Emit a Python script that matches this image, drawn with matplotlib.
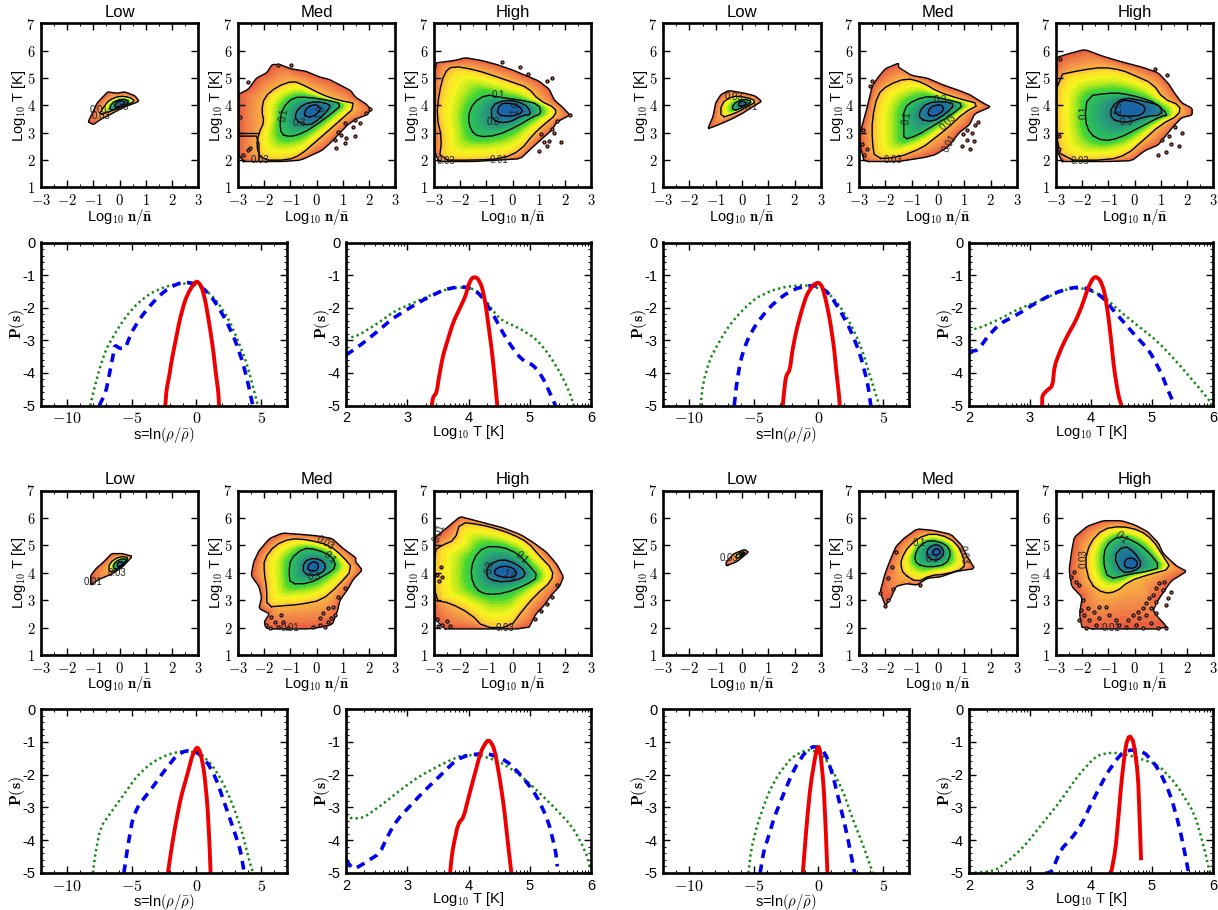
import numpy as np
import matplotlib
matplotlib.use('Agg')
import matplotlib.pyplot as plt
from matplotlib.colors import LinearSegmentedColormap
from matplotlib.path import Path

plt.rcParams['font.family'] = ['Liberation Sans', 'DejaVu Sans']
plt.rcParams['mathtext.fontset'] = 'cm'

# ---- phase diagrams: contour outlines, (log n, log T)
# order is outer edge first, then each contour going inwards
p1_peak = (0.05, 4.05)
p1 = [[(-1.2,3.4),(-1.0,3.3),(-0.7,3.5),(-0.3,3.7),(0.2,3.95),(0.75,4.15),(0.6,4.35),(0.2,4.5),(-0.1,4.45),(-0.45,4.5),(-0.6,4.35),(-0.85,4.1),(-1.05,3.7)],
      [(-0.8,3.65),(-0.3,3.8),(0.2,4.0),(0.6,4.15),(0.4,4.3),(0,4.35),(-0.4,4.2),(-0.6,3.95)],
      [(-0.4,3.8),(0.1,3.95),(0.4,4.15),(0.1,4.25),(-0.3,4.1)],
      [(-0.15,3.9),(0.25,4.1),(0.05,4.2),(-0.2,4.05)]]
p2_peak = (-0.2, 3.85)
p2 = [[(-3,1.95),(-1.3,1.95),(-0.6,2.0),(0.2,2.35),(0.5,2.6),(0.9,3.0),(1.2,3.3),(1.5,3.5),(1.9,3.65),(2.1,3.85),(1.9,4.05),(1.5,4.3),(1.3,4.55),(1,4.7),(0.5,4.95),(0.1,5.05),(-0.4,5.25),(-1,5.35),(-1.4,5.5),(-1.7,5.5),(-1.9,5.2),(-2.3,5),(-2.6,4.6),(-3,4.4)],
      [(-2.1,2.0),(-1.1,2.0),(-0.6,2.2),(0,2.7),(0.6,3.2),(1.6,4.05),(0.8,4.2),(0.2,4.4),(-0.5,4.75),(-0.9,4.9),(-1.5,4.7),(-2,4.3),(-2.1,3.8),(-2,3.4),(-2.2,3.0),(-2.3,2.5)],
      [(-1.35,2.95),(-1,2.85),(-0.5,3),(0,3.3),(0.5,3.65),(1,4.05),(0.4,4.2),(-0.3,4.3),(-0.9,4.3),(-1.3,3.9),(-1.4,3.4)],
      [(-0.8,3.45),(-0.3,3.25),(0.1,3.5),(0.5,3.9),(0.5,4.05),(0,4.15),(-0.5,4.05),(-0.8,3.75)],
      [(-0.5,3.65),(-0.2,3.55),(0.2,3.85),(0,4.05),(-0.35,3.95)]]
p2_extra = [[(-3,3.0),(-2.25,3.0)], [(-3,2.88),(-2.3,2.88),(-2.2,2.6),(-2.2,2.0)]]
p3_peak = (-0.25, 3.85)
p3 = [[(-3,1.95),(-1.5,1.95),(-0.6,2.0),(0.3,2.05),(0.8,2.5),(1.15,2.8),(1.5,3.1),(1.7,3.4),(2.2,3.65),(1.9,3.95),(1.6,4.2),(1.4,4.6),(1,4.9),(0.5,5.1),(0,5.3),(-0.6,5.5),(-1.2,5.65),(-1.8,5.75),(-2.2,5.65),(-3,5.55)],
      [(-2.8,2.0),(-1.5,2.0),(-0.4,2.05),(0.3,2.35),(0.8,2.95),(1.2,3.3),(1.65,3.65),(1.65,3.9),(1.0,4.2),(0.6,4.65),(0,4.85),(-0.6,5.05),(-1.4,5.3),(-2.3,5.45),(-2.6,5.2),(-2.8,4.5),(-2.9,3.6),(-2.7,2.8)],
      [(-1.6,3.1),(-1.3,2.85),(-0.6,2.9),(0.2,3.25),(0.8,3.6),(1.1,3.7),(1.0,4.05),(0.3,4.2),(-0.5,4.3),(-1.0,4.4),(-1.5,4.1),(-1.7,3.6)],
      [(-0.8,3.45),(-0.2,3.35),(0.4,3.65),(0.7,3.65),(0.6,3.95),(0.2,4.15),(-0.3,4.2),(-0.8,4.0)],
      [(-0.6,3.65),(0,3.6),(0.4,3.75),(0.3,3.95),(-0.1,4.1),(-0.5,4.05)]]
p4_peak = (0.0, 4.05)
p4 = [[(-1.3,3.15),(-1,3.25),(-0.4,3.5),(0,3.7),(0.4,3.95),(0.75,4.15),(0.5,4.35),(0.1,4.45),(-0.5,4.55),(-0.8,4.4),(-1,4.1),(-1.1,3.6)],
      [(-0.8,3.55),(-0.3,3.7),(0.2,3.95),(0.55,4.15),(0.2,4.3),(-0.4,4.35),(-0.8,4.05)],
      [(-0.35,3.8),(0.1,3.95),(0.4,4.15),(0.05,4.25),(-0.35,4.05)],
      [(-0.1,3.95),(0.2,4.05),(0.05,4.18),(-0.15,4.08)]]
p5_peak = (-0.15, 3.8)
p5 = [[(-2.8,1.95),(-1.5,1.95),(-0.5,2.1),(-0.1,2.2),(0.4,2.5),(0.8,3.0),(1.2,3.3),(1.4,3.7),(2.0,3.95),(1.7,4.1),(1.2,4.4),(0.8,4.55),(0.2,4.75),(-0.4,5.0),(-1,5.1),(-1.5,5.4),(-1.5,5.55),(-2,5.35),(-2.3,5),(-2.5,4.7),(-2.7,3.9),(-2.9,3.2),(-3,2.8),(-2.9,2.3)],
      [(-2.4,2.05),(-1.5,2.1),(-0.6,2.45),(-0.2,2.75),(0.4,3.2),(1,3.75),(1.6,4.05),(0.8,4.25),(0,4.5),(-0.6,4.85),(-1.2,5.0),(-1.9,4.75),(-2.3,4.4),(-2.5,3.5),(-2.5,2.7)],
      [(-1.3,2.75),(-0.8,2.9),(-0.2,3.25),(0.5,3.65),(1.0,4.05),(0.4,4.2),(-0.3,4.35),(-0.9,4.2),(-1.3,3.9),(-1.3,3.2)],
      [(-0.7,3.5),(-0.2,3.4),(0.3,3.7),(0.65,4.05),(0.2,4.15),(-0.4,4.1),(-0.7,3.8)],
      [(-0.4,3.65),(-0.1,3.6),(0.25,3.85),(0.1,4.05),(-0.3,3.95)]]
p6_peak = (-0.1, 3.85)
p6 = [[(-3,1.95),(-1,1.95),(-0.1,1.98),(0.4,2.35),(0.9,2.55),(1.2,2.9),(1.5,3.25),(1.8,3.55),(2.2,3.65),(2.2,3.9),(1.8,4.1),(1.5,4.5),(1.3,4.8),(0.9,5.2),(0.3,5.4),(-0.5,5.6),(-1.2,5.8),(-1.9,6.05),(-2.5,5.9),(-3,5.75)],
      [(-2.8,2.0),(-1,2.0),(-0.3,2.2),(0.3,2.7),(1,3.3),(1.7,3.65),(1.75,4),(1.1,4.25),(0.7,4.8),(0,5.1),(-0.5,5.3),(-1.2,5.4),(-2,5.3),(-3,5.1),(-3,3)],
      [(-1.7,2.95),(-1.2,2.7),(-0.6,2.8),(0.2,3.2),(1,3.6),(1.3,3.65),(0.8,4.1),(0.2,4.3),(-0.5,4.45),(-1,4.45),(-1.8,4.35),(-1.9,3.5)],
      [(-0.9,3.5),(-0.3,3.35),(0.4,3.6),(1.05,3.65),(1.0,4.0),(0.4,4.15),(-0.4,4.3),(-0.9,3.95)],
      [(-0.7,3.65),(-0.2,3.6),(0.3,3.65),(0.45,3.95),(0,4.15),(-0.5,4.2),(-0.75,3.9)]]
p7_peak = (0.05, 4.3)
p7 = [[(-1.1,3.55),(-0.8,3.75),(-0.3,3.95),(0.1,4.2),(0.5,4.6),(0.1,4.7),(-0.3,4.7),(-0.6,4.4),(-0.9,4.15),(-1.1,3.9)],
      [(-0.4,4.0),(0,4.15),(0.4,4.55),(0,4.6),(-0.4,4.35)],
      [(-0.2,4.1),(0.1,4.25),(0.3,4.5),(0,4.5),(-0.25,4.3)],
      [(-0.05,4.2),(0.2,4.35),(0,4.42),(-0.1,4.3)]]
p8_peak = (-0.15, 4.25)
p8 = [[(-1.9,1.95),(-0.2,1.95),(0.6,2.1),(0.8,2.6),(0.9,3.0),(1.2,3.4),(1.4,3.75),(1.75,4.1),(1.5,4.4),(1.5,4.55),(1,4.9),(0.6,5.25),(0,5.35),(-0.6,5.4),(-1.3,5.45),(-1.8,5.25),(-2.2,4.8),(-2.4,4.4),(-2.5,3.9),(-2.2,3.5),(-2.1,3.1),(-2.2,2.7),(-1.8,2.5),(-2,2.2)],
      [(-1.9,2.75),(-1.2,2.8),(-0.6,2.85),(0.2,3.0),(0.8,3.5),(1.4,4.15),(1,4.6),(0.5,5.0),(-0.3,5.2),(-1,5.25),(-1.6,5.0),(-2,4.5),(-2,4),(-1.9,3.4)],
      [(-1,3.6),(-0.3,3.6),(0.4,3.95),(0.75,4.2),(0.6,4.6),(0,4.85),(-0.5,4.9),(-1,4.5),(-1.05,4.0)],
      [(-0.5,3.95),(0,3.9),(0.35,4.1),(0.3,4.4),(-0.1,4.55),(-0.5,4.4)],
      [(-0.35,4.1),(0,4.05),(0.1,4.3),(-0.1,4.42),(-0.3,4.3)]]
p9_peak = (-0.3, 4.05)
p9 = [[(-3,1.95),(0.6,1.95),(0.9,2.5),(1.2,2.8),(1.5,3.2),(1.8,3.5),(1.95,3.85),(1.7,4.3),(1.3,4.75),(0.8,5.1),(0.3,5.4),(-0.4,5.65),(-1,5.8),(-1.6,5.95),(-2,6.05),(-2.5,5.65),(-3,5.25)],
      [(-3,3.0),(-2.4,2.9),(-1.6,2.5),(-1.1,2.0),(-0.1,2.0),(0.4,2.65),(0.9,3.2),(1.5,3.7),(1.55,4.1),(1.0,4.65),(0.6,5.1),(0,5.4),(-0.6,5.6),(-1.2,5.75),(-2,5.85),(-2.2,5.2),(-2.7,5.0),(-3,4.8)],
      [(-1.4,3.4),(-1.0,3.2),(-0.3,3.25),(0.5,3.55),(1,3.85),(0.6,4.3),(0.2,4.7),(-0.4,4.95),(-1.1,4.95),(-1.5,4.5),(-1.6,3.9)],
      [(-0.9,3.75),(-0.3,3.65),(0.4,3.8),(0.5,4.05),(0.1,4.35),(-0.4,4.5),(-0.9,4.3),(-1,4)],
      [(-0.65,3.9),(-0.1,3.8),(0.2,3.95),(0,4.2),(-0.4,4.25),(-0.7,4.1)]]
p10_peak = (0.0, 4.65)
p10 = [[(-0.6,4.25),(-0.2,4.4),(0.25,4.75),(0.1,4.85),(-0.3,4.7),(-0.6,4.4)],
       [(-0.2,4.5),(0.15,4.72),(0,4.78),(-0.25,4.6)],
       [(-0.05,4.6),(0.1,4.72),(0,4.72),(-0.08,4.65)]]
p11_peak = (-0.05, 4.75)
p11 = [[(-2.0,2.8),(-1.8,3.05),(-1.6,3.5),(-1.2,3.6),(-0.8,3.55),(-0.4,3.8),(0.1,3.85),(0.7,4.05),(1.4,4.15),(1.1,4.6),(0.9,5.0),(0.5,5.4),(-0.2,5.55),(-0.8,5.6),(-1.3,5.25),(-1.6,4.95),(-1.8,4.5),(-2.0,4.0),(-2.2,3.3)],
       [(-1.3,3.95),(-0.8,3.65),(-0.3,3.9),(0.3,3.95),(1.0,4.15),(1.0,4.5),(0.7,5.1),(0.1,5.4),(-0.5,5.4),(-1.1,5.0),(-1.4,4.5),(-1.4,4.2)],
       [(-0.8,4.3),(-0.3,4.2),(0.3,4.3),(0.5,4.7),(0.3,5.05),(-0.3,5.2),(-0.7,5.0),(-0.9,4.6)],
       [(-0.35,4.5),(0,4.45),(0.25,4.7),(0.1,5.0),(-0.2,5.02),(-0.45,4.8)],
       [(-0.2,4.65),(0.05,4.65),(0.1,4.8),(-0.05,4.9),(-0.2,4.8)]]
p12_peak = (-0.15, 4.35)
p12 = [[(-2.0,1.95),(1.3,1.95),(0.7,2.6),(0.9,3.0),(1.4,3.7),(2.0,4.05),(1.6,4.25),(1.1,4.7),(0.9,5.1),(0.5,5.5),(0,5.75),(-0.5,5.9),(-1.2,5.9),(-1.8,5.7),(-2.3,5.3),(-2.4,4.8),(-2.5,4.1),(-2.4,3.5),(-2,3.1),(-2.1,2.5)],
       [(-1.7,3.6),(-1.2,3.25),(-0.7,3.3),(-0.2,3.7),(0.6,3.95),(1.4,4.15),(1.1,4.6),(0.7,5.2),(0.2,5.55),(-0.5,5.7),(-1.2,5.6),(-1.7,5.1),(-1.9,4.4)],
       [(-1.0,3.75),(-0.2,3.95),(0.5,4.05),(1,4.2),(0.5,4.8),(0,5.15),(-0.6,5.35),(-1.1,5.0),(-1.2,4.4)],
       [(-0.5,4.0),(0,4.05),(0.3,4.3),(0,4.75),(-0.4,5.0),(-0.8,4.6)],
       [(-0.4,4.2),(0.0,4.15),(0.15,4.35),(-0.05,4.55),(-0.35,4.5)]]

# stray cells outside the main body
s2 = [(2.03,3.86),(1.9,3.71),(1.65,3.35),(1.46,3.47),(1.39,3.23),(1.46,2.88),(1.08,3.35),(0.82,3.04),(1.14,2.8),(0.95,2.92),(0.69,2.74),(1.08,2.62),(0.76,2.43),(-1.47,5.48),(-0.96,5.48),(-2.62,4.87),(-2.94,3.59),(-2.62,2.37),(-2.55,2.43),(-2.81,2.19)]
s3 = [(1.4,2.7),(1.85,2.65),(1.6,3.0),(1.3,2.5),(1.0,2.35),(1.2,2.65),(2.2,3.65),(1.5,5.0),(0.6,5.15),(0.3,5.4),(-0.4,5.6),(1.3,4.9),(1.5,3.15),(1.7,3.45),(1.1,2.95)]
s5 = [(0.9,2.5),(1.1,2.75),(1.2,2.4),(1.3,3.0),(1.4,3.3),(-2.5,4.9),(-2.9,2.6),(-2.8,2.2),(1.1,3.1),(1.35,2.7),(-2.6,4.7),(1.5,3.4),(0.95,2.95),(-2.85,3.1),(-2.7,2.4)]
s6 = [(1.7,2.5),(1.8,3.0),(1.4,2.6),(1.2,2.3),(0.9,2.2),(1.3,2.9),(1.25,5.1),(0.8,5.35),(-2.9,2.4),(-2.9,2.9),(-2.85,5.7),(1.55,3.2),(1.05,2.75)]
s8 = [(-1.73,2.40),(-1.34,2.46),(-1.92,2.09),(-1.6,2.2),(-1.28,2.2),(-1.79,1.97),(-1.47,2.03),(-1.09,1.97),(0.12,2.34),(0.25,2.52),(0.44,2.7),(0.63,2.76),(0.82,3.13),(1.08,3.43),(0.69,2.46),(0.44,2.2),(0.31,2.03),(0.12,2.09),(-0.13,2.03),(0.57,2.34)]
s9 = [(-2.9,2.3),(-2.7,2.1),(-2.5,2.25),(-2.4,2.05),(-2.85,2.05),(-2.9,3.9),(-2.7,3.85),(-2.8,3.7),(1.3,2.85),(1.5,3.1),(1.7,3.55),(-2.75,4.2),(1.1,2.6),(0.85,2.3)]
s11 = [(-2.0,2.8),(-1.9,3.0),(-2.2,3.25),(-1.7,3.4),(-1.75,4.2),(-1.6,4.75),(-1.9,3.8),(-0.7,3.55)]
s12 = [(1.39,3.31),(1.27,3.07),(1.14,3.68),(0.95,3.62),(0.82,3.43),(1.08,3.37),(0.69,3.19),(0.57,3.07),(0.82,2.95),(0.44,2.89),(0.63,2.70),(0.31,2.70),(0.12,2.58),(0.44,2.46),(0.18,2.34),(-0.07,2.46),(-0.26,2.28),(0.06,2.09),(0.63,2.16),(0.82,2.52),(1.2,2.82),(-1.98,3.01),(-2.04,2.64),(-1.92,2.46),(-2.11,2.28),(-1.79,2.70),(-1.54,2.58),(-1.73,2.28),(-1.34,2.76),(-1.09,2.76),(-0.96,2.46),(-0.71,2.28),(-1.34,2.34),(-1.47,2.09),(-1.85,1.97),(-0.58,2.09),(-0.32,2.01),(0.31,1.97),(1.2,1.97),(0.89,1.97),(-2.43,3.86),(-2.24,3.68),(-2.3,4.04),(-2.11,3.55)]

# contour labels (x, y, text, angle)
l1 = [(-0.8,3.85,'0.01',0),(-0.7,3.6,'0.03',0),(0.1,3.95,'0.3',0)]
l2 = [(-1.25,3.65,'0.1',80),(-0.65,3.35,'0.3',0),(0.15,3.75,'1.0',80),(-2.15,2.0,'0.03',0)]
l3 = [(-0.55,4.4,'0.1',0),(-0.75,3.4,'0.3',0),(0.1,3.9,'1.0',80),(-2.55,1.97,'0.03',0),(-0.5,2.0,'0.01',0)]
l4 = [(-0.3,4.3,'0.03',0),(0.35,3.95,'0.1',0)]
l5 = [(-1.2,3.55,'0.1',80),(0.1,4.2,'0.3',0),(0.4,3.4,'0.03',45),(0.45,2.6,'0.01',60),(-1.7,2.0,'0.03',0)]
l6 = [(-1.95,3.75,'0.1',90),(-0.3,3.4,'0.3',0),(-0.6,3.95,'1.0',90),(-2.1,1.97,'0.03',0)]
l7 = [(-1.0,3.65,'0.01',0),(-0.1,4.0,'0.03',0)]
l8 = [(0.5,4.55,'0.1',-45),(-0.1,3.85,'0.3',0),(0.35,5.1,'0.03',-30),(-1.0,1.97,'0.01',0)]
l9 = [(0.35,4.55,'0.1',-45),(-0.85,4.2,'0.3',80),(-0.1,3.9,'1.0',-20),(-0.3,2.0,'0.03',0),(-2.8,5.45,'0.01',70)]
l10 = [(-0.5,4.55,'0.03',0)]
l11 = [(-0.7,5.1,'0.1',0),(-0.2,4.5,'0.3',0),(0.95,4.65,'0.03',-80)]
l12 = [(-0.5,5.3,'0.1',-45),(-1.95,4.5,'0.03',90),(-0.9,1.98,'0.01',0)]

# ---- PDFs (x, P(s))
a_red = [(-2.4,-5),(-2.3,-4.5),(-2.1,-4.1),(-1.9,-3.6),(-1.6,-3),(-1.3,-2.4),(-0.9,-1.8),(-0.5,-1.45),(-0.1,-1.22),(0.1,-1.2),(0.4,-1.35),(0.7,-1.8),(1.0,-2.5),(1.3,-3.3),(1.5,-4),(1.7,-4.6),(1.75,-5)]
a_blue = [(-7.5,-5),(-7,-4.6),(-6.7,-4),(-6.4,-3.4),(-6.3,-3.15),(-5.9,-3.25),(-5.5,-3.25),(-5,-2.75),(-4.3,-2.3),(-3.5,-1.9),(-2.5,-1.5),(-1.5,-1.27),(-0.8,-1.22),(0,-1.27),(0.8,-1.5),(1.5,-1.85),(2.3,-2.4),(3,-3),(3.6,-3.7),(4.1,-4.5),(4.35,-5)]
a_green = [(-8.2,-5),(-7.9,-4.5),(-7.5,-3.9),(-7,-3.3),(-6.3,-2.8),(-5.5,-2.3),(-4.5,-1.85),(-3.5,-1.55),(-2.5,-1.37),(-1.5,-1.27),(-0.5,-1.25),(0.5,-1.38),(1.5,-1.75),(2.5,-2.35),(3.2,-3),(3.8,-3.6),(4.3,-4.3),(4.75,-5)]
b_red = [(3.4,-5),(3.42,-4.75),(3.48,-4.6),(3.52,-4.1),(3.58,-3.5),(3.65,-3.05),(3.75,-2.45),(3.85,-2.05),(3.95,-1.65),(4.0,-1.3),(4.05,-1.1),(4.1,-1.06),(4.15,-1.1),(4.22,-1.35),(4.28,-1.9),(4.33,-2.6),(4.38,-3.3),(4.42,-4),(4.47,-5)]
b_blue = [(2,-3.45),(2.2,-3.2),(2.5,-2.75),(2.75,-2.35),(3,-2.05),(3.3,-1.72),(3.6,-1.45),(3.8,-1.37),(4,-1.37),(4.2,-1.6),(4.4,-2.2),(4.6,-2.9),(4.8,-3.45),(4.95,-3.7),(5.05,-3.75),(5.2,-4.1),(5.35,-4.7),(5.42,-5)]
b_green = [(2,-2.95),(2.2,-2.85),(2.5,-2.5),(2.8,-2.1),(3.1,-1.85),(3.4,-1.6),(3.7,-1.4),(4.0,-1.37),(4.2,-1.55),(4.4,-2.1),(4.55,-2.4),(4.8,-2.6),(5.1,-2.95),(5.3,-3.4),(5.5,-4.0),(5.65,-4.6),(5.72,-5)]
c_red = [(-2.75,-5),(-2.6,-4.4),(-2.5,-4.1),(-2.2,-3.9),(-2,-3.3),(-1.7,-2.7),(-1.3,-2.1),(-0.9,-1.6),(-0.4,-1.3),(0,-1.22),(0.3,-1.35),(0.6,-1.8),(0.9,-2.4),(1.2,-3.2),(1.4,-4),(1.6,-4.7),(1.65,-5)]
c_blue = [(-6.5,-5),(-6.3,-4.3),(-6,-3.6),(-5.5,-3),(-4.8,-2.5),(-3.8,-2.0),(-2.8,-1.65),(-1.8,-1.42),(-0.8,-1.33),(0,-1.33),(0.8,-1.55),(1.7,-2.1),(2.5,-2.7),(3.2,-3.4),(3.8,-4.3),(4.05,-5)]
c_green = [(-9.1,-5),(-8.9,-4.3),(-8.4,-3.6),(-7.6,-3),(-6.8,-2.5),(-5.8,-2.05),(-4.8,-1.7),(-3.6,-1.47),(-2.4,-1.35),(-1,-1.3),(0.5,-1.45),(1.5,-1.85),(2.5,-2.5),(3.3,-3.2),(4,-4.1),(4.7,-5)]
d_red = [(3.2,-5),(3.2,-4.7),(3.27,-4.55),(3.37,-4.4),(3.4,-3.8),(3.5,-3.3),(3.6,-2.9),(3.75,-2.4),(3.85,-1.95),(3.95,-1.4),(4.03,-1.1),(4.08,-1.05),(4.15,-1.15),(4.22,-1.5),(4.28,-2.2),(4.33,-3),(4.38,-3.9),(4.45,-4.7),(4.5,-5)]
d_blue = [(2,-3.35),(2.15,-3.3),(2.3,-2.9),(2.5,-2.5),(2.8,-2.2),(3.1,-1.85),(3.4,-1.55),(3.7,-1.38),(3.9,-1.38),(4.15,-1.6),(4.4,-2.15),(4.7,-2.8),(4.95,-3.3),(5.15,-4),(5.3,-4.7),(5.38,-5)]
d_green = [(2,-2.7),(2.2,-2.6),(2.5,-2.35),(2.8,-2.05),(3.2,-1.75),(3.6,-1.42),(3.9,-1.4),(4.2,-1.65),(4.5,-2.15),(4.8,-2.6),(5.1,-3.05),(5.4,-3.65),(5.7,-4.3),(5.9,-4.75),(6,-5)]
e_red = [(-2.2,-5),(-1.9,-4.2),(-1.6,-3.5),(-1.2,-2.7),(-0.7,-2),(-0.3,-1.4),(0.05,-1.15),(0.3,-1.3),(0.6,-1.9),(0.85,-2.9),(1,-4),(1.1,-5)]
e_blue = [(-5.6,-5),(-5.3,-4.2),(-4.9,-3.3),(-4.4,-2.9),(-3.5,-2.45),(-2.5,-1.9),(-1.5,-1.4),(-0.8,-1.27),(0,-1.3),(0.8,-1.6),(1.5,-2.1),(2.2,-2.9),(2.9,-3.7),(3.4,-4.3),(3.7,-5)]
e_green = [(-8,-5),(-7.8,-4.4),(-7.4,-3.6),(-6.5,-3.1),(-5.5,-2.55),(-4.6,-2.05),(-3.5,-1.65),(-2.3,-1.4),(-1,-1.27),(0.3,-1.35),(1.2,-1.7),(2,-2.2),(2.8,-2.9),(3.5,-3.7),(4.2,-4.8),(4.4,-5)]
f_red = [(3.7,-5),(3.72,-4.6),(3.75,-4.2),(3.83,-3.5),(3.92,-3.3),(4,-2.7),(4.1,-2),(4.2,-1.3),(4.3,-0.97),(4.35,-0.97),(4.42,-1.2),(4.5,-2),(4.58,-3),(4.65,-4.2),(4.7,-5)]
f_blue = [(2,-4.6),(2.12,-4.9),(2.3,-4.7),(2.55,-4.4),(2.7,-3.8),(2.85,-3.35),(3,-3.05),(3.25,-2.55),(3.5,-2.1),(3.8,-1.55),(4,-1.4),(4.3,-1.35),(4.6,-1.55),(4.85,-2.0),(5.1,-2.6),(5.3,-3.4),(5.42,-4.3),(5.45,-4.8)]
f_green = [(2,-3.2),(2.1,-3.35),(2.3,-3.3),(2.6,-2.9),(2.9,-2.45),(3.2,-2.05),(3.6,-1.65),(3.9,-1.4),(4.2,-1.42),(4.5,-1.6),(4.8,-1.95),(5.1,-2.45),(5.4,-3.0),(5.7,-3.6),(5.9,-4.3),(6,-4.9)]
g_red = [(-1.2,-5),(-0.9,-3.5),(-0.6,-2.3),(-0.2,-1.35),(0,-1.12),(0.15,-1.3),(0.4,-2.3),(0.55,-3.5),(0.7,-5)]
g_blue = [(-4.5,-5),(-4.2,-4.3),(-3.9,-3.95),(-3.4,-3.3),(-2.7,-2.6),(-1.9,-1.85),(-1,-1.3),(-0.3,-1.12),(0.5,-1.3),(1.1,-2),(1.6,-2.8),(2.2,-3.8),(2.8,-5)]
g_green = [(-5.4,-5),(-5.2,-4.3),(-4.7,-3.5),(-3.9,-2.6),(-3.1,-2),(-2,-1.45),(-0.8,-1.22),(0.3,-1.38),(1,-1.8),(1.9,-2.5),(2.6,-3.3),(3.5,-4.2),(4.2,-5)]
h_red = [(4.33,-5),(4.4,-4.3),(4.45,-3.3),(4.5,-2.2),(4.57,-1.1),(4.63,-0.8),(4.7,-1),(4.77,-2),(4.8,-3.5),(4.82,-4.55)]
h_blue = [(3.25,-5),(3.35,-5),(3.5,-4.3),(3.7,-3.9),(3.85,-3.5),(4.0,-2.9),(4.25,-2),(4.45,-1.45),(4.6,-1.25),(4.85,-1.27),(5.1,-1.8),(5.3,-2.6),(5.45,-3.6),(5.55,-4.5),(5.6,-5)]
h_green = [(2,-5),(2.4,-4.95),(2.6,-4.7),(2.9,-4.2),(3.2,-3.5),(3.5,-2.8),(3.8,-2),(4.1,-1.4),(4.4,-1.32),(4.7,-1.45),(5.1,-1.7),(5.4,-2.3),(5.7,-3.2),(5.85,-4.2),(5.95,-5)]

titles = ['Low', 'Med', 'High']
level_vals = [0.0, 0.25, 0.62, 0.82, 0.95]

W, H = 1218, 910
fig = plt.figure(figsize=(W/100, H/100), dpi=100)

cmap = LinearSegmentedColormap.from_list('phase', [
    (0.0, '#e8603f'), (0.06, '#ee7a45'), (0.15, '#f4974a'), (0.25, '#f8b83a'),
    (0.30, '#fde02a'), (0.38, '#f4f41e'), (0.47, '#b8ea1c'), (0.55, '#4fd82e'),
    (0.62, '#2ec850'), (0.72, '#28a870'), (0.82, '#25887f'), (0.92, '#1f72a0'),
    (1.0, '#1a64a8')], N=30)


def new_ax(left, right, top, bottom):
    return fig.add_axes([left/W, 1-bottom/H, (right-left)/W, (bottom-top)/H])


def corner_cut(poly, cut, closed=True):
    # rounds the corners of a hand-read outline
    pts = np.array(poly, dtype=float)
    nxt = np.roll(pts, -1, axis=0)
    if closed:
        a = pts + cut*(nxt-pts)
        b = pts + (1-cut)*(nxt-pts)
        return [tuple(p) for p in np.ravel(np.c_[a, b]).reshape(-1, 2)]
    a = pts[:-1] + cut*(nxt[:-1]-pts[:-1])
    b = pts[:-1] + (1-cut)*(nxt[:-1]-pts[:-1])
    mid = np.ravel(np.c_[a, b]).reshape(-1, 2)
    return np.vstack([pts[0], mid, pts[-1]])


def radius_at(poly, peak, theta):
    # radius of a polygon seen from the peak, as function of angle
    pts = np.array(poly + [poly[0]], dtype=float)
    t = np.linspace(0, len(poly), len(poly)*12+1)
    px = np.interp(t, np.arange(len(pts)), pts[:, 0]) - peak[0]
    py = np.interp(t, np.arange(len(pts)), pts[:, 1]) - peak[1]
    ang = np.arctan2(py, px)
    rad = np.hypot(px, py)
    o = np.argsort(ang)
    return np.interp(theta, ang[o], rad[o], period=2*np.pi)


def phase_field(contours, peak, X, Y):
    dx, dy = X-peak[0], Y-peak[1]
    r = np.hypot(dx, dy)
    th = np.arctan2(dy, dx)
    val = np.full(X.shape, 1.0)
    r_in = np.zeros(X.shape)
    v_in = 1.0
    for k in range(len(contours)-1, -1, -1):
        r_out = radius_at(contours[k], peak, th)
        v_out = level_vals[k]
        m = r >= r_in
        val[m] = v_in + (r[m]-r_in[m])/np.maximum(r_out[m]-r_in[m], 1e-3)*(v_out-v_in)
        r_in, v_in = r_out, v_out
    inside = Path(contours[0]).contains_points(np.c_[X.ravel(), Y.ravel()]).reshape(X.shape)
    return np.ma.masked_where(~inside, np.clip(val, 0, 1))


def style_ax(ax):
    for sp in ax.spines.values():
        sp.set_linewidth(1.9)
    ax.tick_params(which='major', direction='in', top=True, right=True, length=5, width=1, pad=4)
    ax.tick_params(which='minor', direction='in', top=True, right=True, length=2.5, width=0.8)


def phase_panel(box, title, contours, peak, stray, labels):
    ax = new_ax(*box)
    smooth = [corner_cut(c, 0.12 if k == 0 else 0.25) for k, c in enumerate(contours)]
    xs = np.linspace(-3, 3, 158)
    ys = np.linspace(1, 7, 165)
    X, Y = np.meshgrid(xs, ys)
    ax.pcolormesh(X, Y, phase_field(smooth, peak, X, Y), cmap=cmap, vmin=0, vmax=1, shading='nearest')
    for c in smooth:
        pts = np.array(c + [c[0]])
        ax.plot(pts[:, 0], pts[:, 1], color='k', lw=1.0)
    if stray:
        pts = np.array(stray)
        ax.scatter(pts[:, 0], pts[:, 1], s=5, c='#e8603f', edgecolors='k', linewidths=0.8, zorder=3)
    for x, y, s, rot in labels:
        ax.text(x, y, s, fontsize=7, rotation=rot, ha='center', va='center', color='#222222', zorder=4)
    ax.set_xlim(-3, 3)
    ax.set_ylim(1, 7)
    ax.set_xticks(range(-3, 4))
    ax.set_xticklabels([r'$\mathbf{%s}$' % v for v in ['-3', '-2', '-1', '0', '1', '2', '3']], fontsize=10.5)
    ax.set_yticks(range(1, 8))
    ax.set_yticklabels([r'$\mathbf{%d}$' % v for v in range(1, 8)], fontsize=10.5)
    ax.set_xticks(np.arange(-2.5, 3, 1), minor=True)
    ax.set_xlabel(r'Log$_{\mathbf{10}}$ $\mathbf{n/\bar{n}}$', fontsize=10.5, labelpad=-1)
    ax.set_ylabel(r'Log$_{\mathbf{10}}$ T [K]', fontsize=10.5, labelpad=-1)
    ax.set_title(title, fontsize=12, pad=5)
    style_ax(ax)
    return ax


def draw_pdf(ax, red, blue, green):
    g = corner_cut(green, 0.2, closed=False)
    b = corner_cut(blue, 0.2, closed=False)
    r = corner_cut(red, 0.2, closed=False)
    ax.plot(g[:, 0], g[:, 1], color='#118811', lw=1.8, ls=(0, (0.9, 1.3)))
    ax.plot(b[:, 0], b[:, 1], color='#0000ee', lw=2.6, ls=(0, (2.4, 1.8)))
    ax.plot(r[:, 0], r[:, 1], color='#ee0000', lw=2.8)
    ax.set_ylim(-5, 0)
    ax.set_yticks(range(-5, 1))
    ax.set_yticklabels(['-5', '-4', '-3', '-2', '-1', '0'], fontsize=10.5)
    ax.set_yticks(np.arange(-5, 0.01, 0.2), minor=True)
    ax.set_ylabel(r'$\mathbf{P(s)}$', fontsize=11.5, labelpad=-3)
    style_ax(ax)


def s_panel(box, red, blue, green):
    ax = new_ax(*box)
    draw_pdf(ax, red, blue, green)
    ax.set_xlim(-12, 7)
    ax.set_xticks([-10, -5, 0, 5])
    ax.set_xticklabels([r'$-10$', r'$-5$', r'$0$', r'$5$'], fontsize=11.5)
    ax.set_xticks(np.arange(-12, 7.1, 1), minor=True)
    ax.set_xlabel(r's=ln$(\rho/\bar{\rho})$', fontsize=10.5, labelpad=-1)


def t_panel(box, red, blue, green):
    ax = new_ax(*box)
    draw_pdf(ax, red, blue, green)
    ax.set_xlim(2, 6)
    ax.set_xticks([2, 3, 4, 5, 6])
    ax.set_xticklabels(['2', '3', '4', '5', '6'], fontsize=10.5)
    ax.set_xticks([d + np.log10(m) for d in range(2, 6) for m in range(2, 10)], minor=True)
    ax.set_xlabel(r'Log$_{\mathbf{10}}$ T [K]', fontsize=10.5, labelpad=-1.5)


# pixel boxes of the columns
col_l = [(41, 198), (238, 395), (434, 591)]
col_r = [(663, 821), (859, 1017), (1056, 1213)]
row1 = (23.5, 187.5)
row3 = (490.5, 655)
pdf1 = (242.5, 405.5)
pdf3 = (709, 873)

groups = [
    (col_l, row1, [(p1, p1_peak, [], l1), (p2, p2_peak, s2, l2), (p3, p3_peak, s3, l3)]),
    (col_r, row1, [(p4, p4_peak, [], l4), (p5, p5_peak, s5, l5), (p6, p6_peak, s6, l6)]),
    (col_l, row3, [(p7, p7_peak, [], l7), (p8, p8_peak, s8, l8), (p9, p9_peak, s9, l9)]),
    (col_r, row3, [(p10, p10_peak, [], l10), (p11, p11_peak, s11, l11), (p12, p12_peak, s12, l12)]),
]
axes = []
for cols, row, items in groups:
    for (lr, item, title) in zip(cols, items, titles):
        axes.append(phase_panel((lr[0], lr[1], row[0], row[1]), title, *item))

for line in p2_extra:
    pts = np.array(line)
    axes[1].plot(pts[:, 0], pts[:, 1], color='k', lw=1.0)

s_panel((41, 287, *pdf1), a_red, a_blue, a_green)
t_panel((346, 591, *pdf1), b_red, b_blue, b_green)
s_panel((663, 909, *pdf1), c_red, c_blue, c_green)
t_panel((969, 1213, *pdf1), d_red, d_blue, d_green)
s_panel((41, 287, *pdf3), e_red, e_blue, e_green)
t_panel((346, 591, *pdf3), f_red, f_blue, f_green)
s_panel((663, 909, *pdf3), g_red, g_blue, g_green)
t_panel((969, 1213, *pdf3), h_red, h_blue, h_green)

fig.savefig('out.png', dpi=100, facecolor='white')
